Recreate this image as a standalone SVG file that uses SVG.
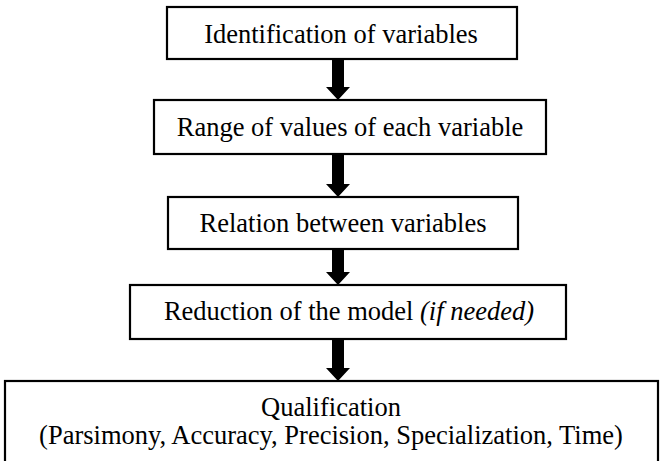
<svg xmlns="http://www.w3.org/2000/svg" width="663" height="461" viewBox="0 0 663 461">
<style>
.box{fill:#fff;stroke:#000;stroke-width:2.2}
.t{font-family:"Liberation Serif","Times New Roman",serif;font-size:26.5px;fill:#000;text-anchor:middle}
.arr{fill:#000}
</style>
<rect width="663" height="461" fill="#fff"/>
<g id="connectors">
<path class="arr" d="M332 60 H344 V87 H350 L338 100 L326 87 H332 Z"/>
<path class="arr" d="M332 155 H344 V184 H350 L338 197 L326 184 H332 Z"/>
<path class="arr" d="M332 250 H344 V272 H350 L338 285 L326 272 H332 Z"/>
<path class="arr" d="M332 340 H344 V368 H350 L338 381 L326 368 H332 Z"/>
</g>
<g id="n1"><rect class="box" x="167" y="7" width="350" height="52"/><text class="t" x="341" y="43">Identification of variables</text></g>
<g id="n2"><rect class="box" x="154" y="100" width="392" height="54"/><text class="t" x="350" y="136">Range of values of each variable</text></g>
<g id="n3"><rect class="box" x="168" y="197" width="350" height="52"/><text class="t" x="343" y="232">Relation between variables</text></g>
<g id="n4"><rect class="box" x="130" y="285" width="436" height="54"/><text class="t" x="349" y="320">Reduction of the model <tspan font-style="italic">(if needed)</tspan></text></g>
<g id="n5"><rect class="box" x="5" y="381" width="653" height="90"/><text class="t" x="331" y="416">Qualification</text><text class="t" x="331" y="444">(Parsimony, Accuracy, Precision, Specialization, Time)</text></g>
</svg>
